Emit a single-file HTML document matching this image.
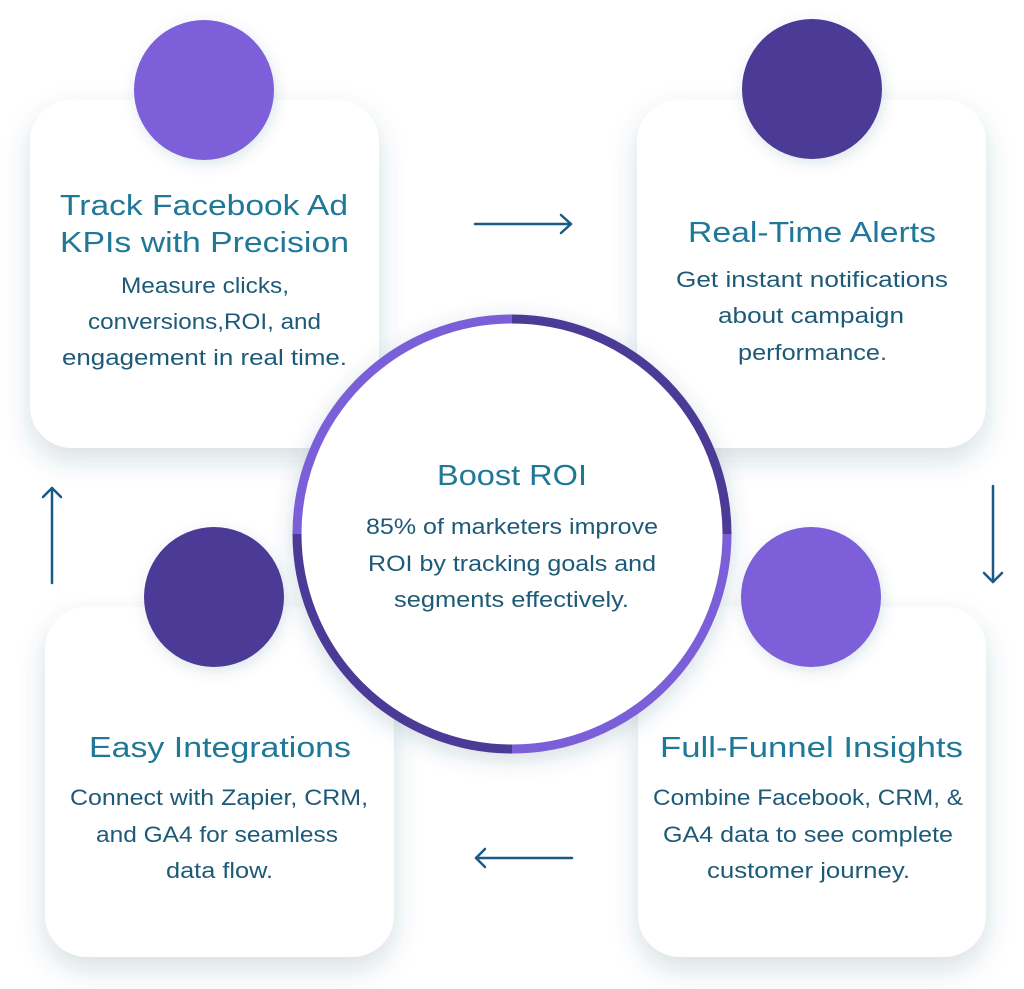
<!DOCTYPE html>
<html>
<head>
<meta charset="utf-8">
<style>
html,body{margin:0;padding:0;background:#fff;}
svg{display:block;}
.t{font-family:"Liberation Sans",Arial,sans-serif;font-size:28.5px;fill:#1f7898;}
.b{font-family:"Liberation Sans",Arial,sans-serif;font-size:22px;fill:#1d5a78;}
</style>
</head>
<body>
<svg width="1024" height="989" viewBox="0 0 1024 989" xmlns="http://www.w3.org/2000/svg">
<defs>
<filter id="cs" x="-20%" y="-20%" width="140%" height="150%">
<feDropShadow dx="0" dy="12" stdDeviation="13" flood-color="#1e4f70" flood-opacity="0.18"/>
</filter>
<filter id="ds" x="-30%" y="-30%" width="160%" height="160%">
<feDropShadow dx="2" dy="4" stdDeviation="7" flood-color="#1e4f70" flood-opacity="0.14"/>
</filter>
<filter id="rs" x="-20%" y="-20%" width="140%" height="140%">
<feDropShadow dx="0" dy="6" stdDeviation="11" flood-color="#1e4f70" flood-opacity="0.2"/>
</filter>
</defs>
<rect width="1024" height="989" fill="#fff"/>

<!-- cards -->
<rect x="30" y="100" width="349" height="348" rx="42" fill="#fff" filter="url(#cs)"/>
<rect x="637" y="100" width="349" height="348" rx="42" fill="#fff" filter="url(#cs)"/>
<rect x="45" y="607" width="349" height="350" rx="42" fill="#fff" filter="url(#cs)"/>
<rect x="638" y="607" width="348" height="350" rx="42" fill="#fff" filter="url(#cs)"/>

<!-- dots -->
<circle cx="204" cy="90" r="70" fill="#7b5fd9" filter="url(#ds)"/>
<circle cx="812" cy="89" r="70" fill="#4b3a96" filter="url(#ds)"/>
<circle cx="214" cy="597" r="70" fill="#4b3a96" filter="url(#ds)"/>
<circle cx="811" cy="597" r="70" fill="#7b5fd9" filter="url(#ds)"/>

<!-- card text -->
<text class="t" x="204" y="215" text-anchor="middle" textLength="288" lengthAdjust="spacingAndGlyphs">Track Facebook Ad</text>
<text class="t" x="204.5" y="252" text-anchor="middle" textLength="289" lengthAdjust="spacingAndGlyphs">KPIs with Precision</text>
<text class="b" x="205" y="293" text-anchor="middle" textLength="168" lengthAdjust="spacingAndGlyphs">Measure clicks,</text>
<text class="b" x="204.5" y="329" text-anchor="middle" textLength="233" lengthAdjust="spacingAndGlyphs">conversions,ROI, and</text>
<text class="b" x="204.5" y="365" text-anchor="middle" textLength="285" lengthAdjust="spacingAndGlyphs">engagement in real time.</text>

<text class="t" x="812" y="242" text-anchor="middle" textLength="248" lengthAdjust="spacingAndGlyphs">Real-Time Alerts</text>
<text class="b" x="812" y="287" text-anchor="middle" textLength="272" lengthAdjust="spacingAndGlyphs">Get instant notifications</text>
<text class="b" x="811" y="323" text-anchor="middle" textLength="186" lengthAdjust="spacingAndGlyphs">about campaign</text>
<text class="b" x="812.5" y="360" text-anchor="middle" textLength="149" lengthAdjust="spacingAndGlyphs">performance.</text>

<text class="t" x="220" y="757" text-anchor="middle" textLength="262" lengthAdjust="spacingAndGlyphs">Easy Integrations</text>
<text class="b" x="219" y="805" text-anchor="middle" textLength="298" lengthAdjust="spacingAndGlyphs">Connect with Zapier, CRM,</text>
<text class="b" x="217" y="842" text-anchor="middle" textLength="242" lengthAdjust="spacingAndGlyphs">and GA4 for seamless</text>
<text class="b" x="219.5" y="878" text-anchor="middle" textLength="107" lengthAdjust="spacingAndGlyphs">data flow.</text>

<text class="t" x="811.5" y="757" text-anchor="middle" textLength="303" lengthAdjust="spacingAndGlyphs">Full-Funnel Insights</text>
<text class="b" x="808" y="805" text-anchor="middle" textLength="310" lengthAdjust="spacingAndGlyphs">Combine Facebook, CRM, &amp;</text>
<text class="b" x="808" y="842" text-anchor="middle" textLength="290" lengthAdjust="spacingAndGlyphs">GA4 data to see complete</text>
<text class="b" x="808.5" y="878" text-anchor="middle" textLength="203" lengthAdjust="spacingAndGlyphs">customer journey.</text>

<!-- center ring -->
<circle cx="512" cy="534" r="219" fill="#fff" filter="url(#rs)"/>
<g fill="none" stroke-width="9" stroke-linecap="butt">
<path d="M297,534 A215,215 0 0 1 512,319" stroke="#7b5fd9"/>
<path d="M512,319 A215,215 0 0 1 727,534" stroke="#4b3a96"/>
<path d="M727,534 A215,215 0 0 1 512,749" stroke="#7b5fd9"/>
<path d="M512,749 A215,215 0 0 1 297,534" stroke="#4b3a96"/>
</g>
<text class="t" x="512" y="485" text-anchor="middle" textLength="150" lengthAdjust="spacingAndGlyphs">Boost ROI</text>
<text class="b" x="512" y="534" text-anchor="middle" textLength="292" lengthAdjust="spacingAndGlyphs">85% of marketers improve</text>
<text class="b" x="512" y="571" text-anchor="middle" textLength="288" lengthAdjust="spacingAndGlyphs">ROI by tracking goals and</text>
<text class="b" x="511.5" y="607" text-anchor="middle" textLength="235" lengthAdjust="spacingAndGlyphs">segments effectively.</text>

<!-- arrows -->
<g stroke="#1a5a86" stroke-width="2.5" fill="none" stroke-linecap="round" stroke-linejoin="round">
<line x1="475" y1="224" x2="571" y2="224"/>
<polyline points="561,215 571,224 561,233"/>
<line x1="993" y1="486" x2="993" y2="582"/>
<polyline points="984,573 993,582 1002,573"/>
<line x1="476" y1="858" x2="572" y2="858"/>
<polyline points="485,849 476,858 485,867"/>
<line x1="52" y1="488" x2="52" y2="583"/>
<polyline points="43,497 52,488 61,497"/>
</g>
</svg>
</body>
</html>
